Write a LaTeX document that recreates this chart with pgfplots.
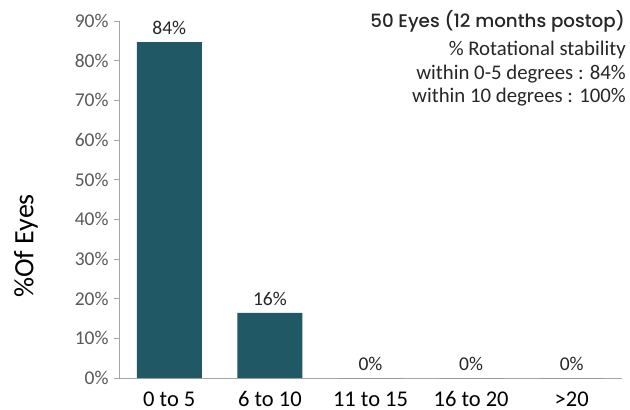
\documentclass[border=0pt]{standalone}
\usepackage{pgfplots}
\pgfplotsset{compat=1.18}
\usepackage{fontspec}
\setmainfont{Carlito}
\newfontfamily\titlefont{Poppins}[UprightFont={* Medium}]
\definecolor{barteal}{HTML}{215865}
\definecolor{tickgray}{HTML}{595959}
\definecolor{axgray}{HTML}{A6A6A6}

\pgfplotstableread{
x  y    lab
0  84.7 84
1  16.4 16
2  0    0
3  0    0
4  0    0
}\eyes

\begin{document}
\begin{tikzpicture}
\useasboundingbox (0,0) rectangle (630bp,410bp);
\begin{axis}[
    at={(119bp,32bp)}, anchor=south west,
    scale only axis,
    width=503bp, height=357bp,
    ymin=0, ymax=90,
    xmin=-0.5, xmax=4.5,
    axis x line*=bottom, axis y line*=left,
    axis line style={axgray, line width=0.8pt},
    ytick={0,10,...,90},
    yticklabel={\pgfmathprintnumber{\tick}\%},
    yticklabel style={font=\fontsize{19.5bp}{21bp}\selectfont, text=tickgray, xshift=-2bp},
    /pgf/number format/assume math mode=true,
    ytick style={axgray, line width=0.8pt},
    tick align=outside,
    major tick length=5bp,
    xtick=data,
    xticklabels={0 to 5, 6 to 10, 11 to 15, 16 to 20, >20},
    xticklabel style={font=\fontsize{22.5bp}{24bp}\selectfont, text=black, anchor=base, inner sep=0pt, yshift=-23bp},
    xtick style={draw=none},
    ylabel={\%Of Eyes},
    ylabel style={font=\fontsize{28bp}{30bp}\selectfont, at={(axis description cs:-0.185,0.37)}, anchor=center},
    clip=false,
]
\addplot[ybar, bar width=65bp, fill=barteal, draw=none,
    point meta=explicit symbolic,
    nodes near coords={\pgfplotspointmeta\%},
    nodes near coords style={font=\fontsize{19.5bp}{21bp}\selectfont, text=black!85, anchor=south, yshift=4bp},
] table[x=x, y=y, meta=lab] {\eyes};
\end{axis}
\begin{scope}[every node/.style={anchor=base east, inner sep=0pt, text=black!85}]
\node[font=\titlefont\fontsize{18.3bp}{20bp}\selectfont] at (625bp,382bp) {50 Eyes (12 months postop)};
\node[font=\fontsize{20.8bp}{22bp}\selectfont] at (626bp,354bp) {\% Rotational stability};
\node[font=\fontsize{20.8bp}{22bp}\selectfont] at (626bp,330bp) {within 0-5 degrees : 84\%};
\node[font=\fontsize{20.8bp}{22bp}\selectfont] at (626bp,307bp) {within 10 degrees : 100\%};
\end{scope}
\end{tikzpicture}
\end{document}
